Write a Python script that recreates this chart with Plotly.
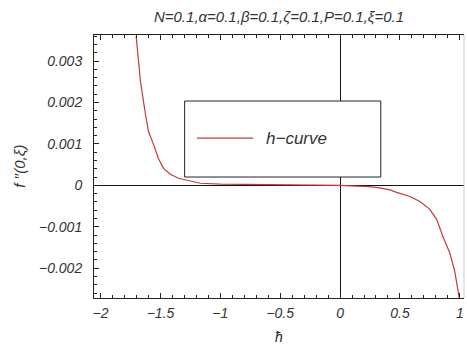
import plotly.graph_objects as go

# data
h_vals = [-1.703, -1.667, -1.625, -1.600, -1.558, -1.517, -1.475, -1.417, -1.35, -1.275,
          -1.167, -1.0, -0.75, -0.5, -0.25, 0.0, 0.139, 0.25, 0.33, 0.417, 0.4725, 0.583,
          0.667, 0.75, 0.806, 0.858, 0.917, 0.958, 0.986, 1.0]
f_vals = [0.0036, 0.00251, 0.00171, 0.0013, 0.00099, 0.00065, 0.00041, 0.00027, 0.00017,
          0.00012, 0.00005, 0.00003, 0.000025, 0.00002, 0.00001, 0.0, -0.00002, -0.00003,
          -0.00006, -0.00011, -0.00017, -0.00027, -0.00039, -0.00058, -0.00082, -0.00123,
          -0.00164, -0.00208, -0.00256, -0.0028]
x_ticks = [-2, -1.5, -1, -0.5, 0, 0.5, 1]
x_tick_text = ["−2", "−1.5", "−1", "−0.5", "0", "0.5", "1"]
y_ticks = [-0.002, -0.001, 0, 0.001, 0.002, 0.003]
y_tick_text = ["−0.002", "−0.001", "0", "0.001", "0.002", "0.003"]
series_name = "h−curve"
title_text = "N=0.1,α=0.1,β=0.1,ζ=0.1,P=0.1,ξ=0.1"

FONT = "Liberation Sans"
CURVE = "#c43a3a"

fig = go.Figure()
fig.add_trace(go.Scatter(x=h_vals, y=f_vals, mode="lines", name=series_name,
                         line=dict(color=CURVE, width=1.2),
                         showlegend=False))

axis_common = dict(
    showgrid=False, zeroline=True, zerolinecolor="#111", zerolinewidth=1,
    showline=True, linecolor="#222", linewidth=1,
    ticks="inside", ticklen=5, tickcolor="#222", tickwidth=1,
    tickfont=dict(family=FONT, size=14, color="#333", style="italic"),
)
fig.update_xaxes(**axis_common, range=[-2.055, 1.035], tickvals=x_ticks, ticktext=x_tick_text,
                 mirror="ticks", ticklabelstandoff=2,
                 minor=dict(dtick=0.1, tick0=0, ticks="inside", ticklen=3, tickcolor="#222"))
fig.update_yaxes(**axis_common, range=[-0.00272, 0.00363], tickvals=y_ticks, ticktext=y_tick_text,
                 mirror=False, ticklabelstandoff=8,
                 minor=dict(dtick=0.0002, tick0=0, ticks="inside", ticklen=3, tickcolor="#222"))

# faint right border
fig.add_shape(type="line", xref="paper", yref="paper", x0=1, x1=1, y0=0, y1=1,
              line=dict(color="#c8c8c8", width=1))

# legend box
fig.add_shape(type="rect", xref="paper", yref="paper", x0=0.245, x1=0.775, y0=0.460, y1=0.749,
              line=dict(color="#222", width=1), fillcolor="white", layer="above")
fig.add_shape(type="line", xref="paper", yref="paper", x0=0.278, x1=0.43, y0=0.608, y1=0.608,
              line=dict(color=CURVE, width=1.2), layer="above")
fig.add_annotation(text=series_name, xref="paper", yref="paper", x=0.459, y=0.608,
                   xanchor="left", yanchor="middle", showarrow=False,
                   font=dict(family=FONT, size=17, color="#333", style="italic"))

# axis labels
fig.add_annotation(text="ħ", xref="paper", yref="paper", x=0.5, y=-0.148,
                   xanchor="center", yanchor="middle", showarrow=False,
                   font=dict(family=FONT, size=14, color="#222", style="italic"))
fig.add_annotation(text="f ′′(0,ξ)", xref="paper", yref="paper", x=-0.2005, y=0.502,
                   xanchor="center", yanchor="middle", showarrow=False, textangle=-90,
                   font=dict(family=FONT, size=15, color="#333", style="italic"))

fig.update_layout(
    width=467, height=350,
    margin=dict(l=94, r=3, t=35, b=52),
    paper_bgcolor="white", plot_bgcolor="white",
    title=dict(text=title_text, x=0.5, xref="paper", y=1 - 17 / 350, yref="container",
               xanchor="center", yanchor="middle",
               font=dict(family=FONT, size=15, color="#333", style="italic")),
)

fig.write_html("out.html")
